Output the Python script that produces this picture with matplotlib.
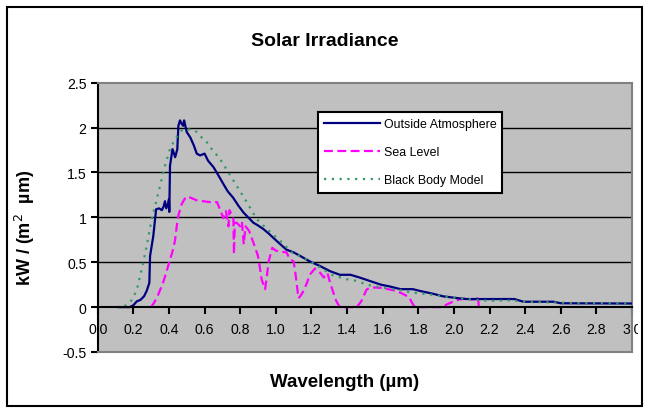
import matplotlib
matplotlib.use("Agg")
import matplotlib.pyplot as plt
from matplotlib.patches import Rectangle
from matplotlib.transforms import Bbox

plt.rcParams['font.family'] = ['Liberation Sans', 'DejaVu Sans']

# ---- data ----
outside_wl = [0.12, 0.18, 0.20, 0.22, 0.24, 0.26, 0.275, 0.29, 0.294, 0.312, 0.328, 0.345, 0.36,
              0.37, 0.378, 0.385, 0.395, 0.40, 0.402, 0.406, 0.42, 0.435, 0.447, 0.453, 0.462,
              0.472, 0.48, 0.485, 0.50, 0.52, 0.54, 0.556, 0.575, 0.60, 0.62, 0.65, 0.68, 0.706,
              0.73, 0.76, 0.79, 0.82, 0.85, 0.874, 0.90, 0.93, 0.96, 0.987, 1.02, 1.06, 1.10,
              1.137, 1.19, 1.25, 1.305, 1.36, 1.42, 1.47, 1.53, 1.59, 1.64, 1.70, 1.77, 1.81,
              1.88, 1.94, 2.02, 2.07, 2.34, 2.39, 2.56, 2.60, 3.0]
outside_val = [0.0, 0.0, 0.02, 0.065, 0.08, 0.12, 0.18, 0.27, 0.57, 0.79, 1.09, 1.10, 1.08,
               1.12, 1.18, 1.10, 1.15, 1.20, 1.06, 1.575, 1.76, 1.67, 1.76, 2.02, 2.08,
               2.04, 2.02, 2.08, 1.95, 1.89, 1.80, 1.71, 1.69, 1.71, 1.63, 1.56, 1.46, 1.37,
               1.29, 1.22, 1.13, 1.05, 0.99, 0.94, 0.91, 0.87, 0.82, 0.77, 0.71, 0.64, 0.61,
               0.57, 0.51, 0.456, 0.40, 0.36, 0.36, 0.33, 0.29, 0.25, 0.23, 0.20, 0.20, 0.18,
               0.15, 0.12, 0.10, 0.09, 0.09, 0.06, 0.06, 0.043, 0.04]

sea_wl = [0.30, 0.32, 0.34, 0.37, 0.39, 0.406, 0.42, 0.434, 0.445, 0.453, 0.472, 0.496, 0.52,
          0.556, 0.59, 0.63, 0.67, 0.69, 0.706, 0.72, 0.734, 0.74, 0.755, 0.762, 0.765, 0.77,
          0.78, 0.80, 0.81, 0.82, 0.83, 0.85, 0.874, 0.90, 0.91, 0.92, 0.94, 0.95, 0.96, 0.98,
          1.00, 1.02, 1.06, 1.08, 1.10, 1.11, 1.127, 1.137, 1.15, 1.175, 1.19, 1.22, 1.25,
          1.27, 1.29, 1.305, 1.32, 1.34, 1.36, 1.455, 1.48, 1.51, 1.53, 1.59, 1.64, 1.68,
          1.72, 1.75, 1.76, 1.78, 1.94, 1.96, 2.0, 2.03, 2.07, 2.10, 2.13, 2.135, 2.14]
sea_val = [0.0, 0.06, 0.14, 0.29, 0.42, 0.53, 0.62, 0.74, 0.92, 1.02, 1.15, 1.23, 1.22,
           1.19, 1.18, 1.17, 1.17, 1.07, 0.99, 1.07, 0.90, 1.08, 1.02, 0.98, 0.59, 0.94,
           0.94, 0.90, 0.95, 0.70, 0.90, 0.85, 0.72, 0.57, 0.45, 0.31, 0.20, 0.35, 0.51, 0.66,
           0.63, 0.62, 0.61, 0.53, 0.51, 0.38, 0.10, 0.12, 0.16, 0.27, 0.36, 0.43, 0.38,
           0.33, 0.38, 0.27, 0.18, 0.065, 0.0, 0.0, 0.065, 0.196, 0.22, 0.215, 0.196, 0.18,
           0.14, 0.11, 0.065, 0.0, 0.0, 0.03, 0.065, 0.085, 0.095, 0.085, 0.09, 0.12, 0.0]

bb_wl = [0.107, 0.15, 0.18, 0.20, 0.22, 0.247, 0.275, 0.303, 0.32, 0.35, 0.378, 0.406, 0.434,
         0.472, 0.50, 0.52, 0.537, 0.556, 0.593, 0.61, 0.62, 0.687, 0.762, 0.837, 0.893, 0.95,
         1.024, 1.10, 1.137, 1.175, 1.25, 1.32, 1.40, 1.46, 1.51, 1.60, 1.70, 1.755, 1.87,
         1.98, 2.07, 2.20, 2.33, 2.39, 2.50, 2.70, 3.0]
bb_val = [0.0, 0.01, 0.047, 0.11, 0.196, 0.42, 0.68, 0.98, 1.11, 1.35, 1.575, 1.76, 1.87,
          1.97, 1.98, 1.98, 1.98, 1.95, 1.87, 1.85, 1.81, 1.65, 1.41, 1.17, 0.98, 0.87,
          0.74, 0.59, 0.57, 0.53, 0.44, 0.355, 0.31, 0.29, 0.25, 0.215, 0.19, 0.165, 0.14,
          0.11, 0.09, 0.07, 0.075, 0.06, 0.055, 0.045, 0.04]

series_labels = ["Outside Atmosphere", "Sea Level", "Black Body Model"]
x_ticks = [0.0, 0.2, 0.4, 0.6, 0.8, 1.0, 1.2, 1.4, 1.6, 1.8, 2.0, 2.2, 2.4, 2.6, 2.8, 3.0]
y_ticks = [-0.5, 0, 0.5, 1, 1.5, 2, 2.5]
y_tick_labels = ["-0.5", "0", "0.5", "1", "1.5", "2", "2.5"]

# ---- figure ----
W, H = 649, 414
fig = plt.figure(figsize=(W / 100, H / 100), dpi=100)
fig.patch.set_facecolor('white')

# outer frame
fig.add_artist(Rectangle((7 / W, 1 - 407 / H), (642 - 7) / W, (407 - 8) / H,
                         transform=fig.transFigure, fill=False, edgecolor='black', linewidth=1.5))

left, right, top, bottom = 97.7, 632.0, 83.7, 353.0
ax = fig.add_axes([left / W, 1 - bottom / H, (right - left) / W, (bottom - top) / H])
ax.set_facecolor('#C0C0C0')
ax.set_xlim(0, 3.0)
ax.set_ylim(-0.5, 2.5)

# gridlines
for g in [0.5, 1.0, 1.5, 2.0]:
    ax.axhline(g, color='black', linewidth=1.0, zorder=1)

ax.plot(outside_wl, outside_val, color='#000080', linewidth=1.6, label=series_labels[0], zorder=4)
ax.plot(sea_wl, sea_val, color='#FF00FF', linewidth=1.6, linestyle=(0, (4, 2)), label=series_labels[1], zorder=3)
ax.plot(bb_wl, bb_val, color='#339966', linewidth=1.6, linestyle=(0, (1, 2.5)), label=series_labels[2], zorder=5)

# spines
for s in ['top', 'right']:
    ax.spines[s].set_color('#808080')
    ax.spines[s].set_linewidth(1.5)
ax.spines['left'].set_color('black')
ax.spines['left'].set_linewidth(1.5)
ax.spines['bottom'].set_position(('data', 0))
ax.spines['bottom'].set_color('black')
ax.spines['bottom'].set_linewidth(1.5)
ax.spines['bottom'].set_zorder(6)
ax.axhline(-0.5, color='#808080', linewidth=1.5, clip_on=False, zorder=6)

ax.set_xticks(x_ticks)
ax.set_xticklabels([f"{t:.1f}" for t in x_ticks])
ax.set_yticks(y_ticks)
ax.set_yticklabels(y_tick_labels)
ax.tick_params(axis='both', direction='out', length=5, width=1.5, color='black',
               labelsize=10.2, pad=3)
ax.tick_params(axis='x', pad=6)
clip_bb = Bbox.from_extents(0, 0, right + 6, H)
for lab in ax.get_xticklabels():
    lab.set_clip_box(clip_bb)
    lab.set_clip_on(True)

fig.text(0.5, 1 - 42 / H, "Solar Irradiance", fontsize=14, fontweight='bold',
         ha='center', va='center')
fig.text(345 / W, 1 - 383 / H, "Wavelength (\u00b5m)", fontsize=13.5, fontweight='bold',
         ha='center', va='center')
fig.text(25 / W, 1 - 228 / H, "kW / (m$^{2}$  \u00b5m)", fontsize=13, fontweight='bold',
         ha='center', va='center', rotation=90)

leg = ax.legend(loc='upper left', bbox_to_anchor=((318 - left) / (right - left), (bottom - 113) / (bottom - top)),
                frameon=True, fancybox=False, framealpha=1, edgecolor='black', fontsize=8.9,
                handlelength=4.5, labelspacing=1.3, borderpad=0.5, handletextpad=0.3,
                borderaxespad=0)
leg.get_frame().set_linewidth(1.5)

fig.savefig("out.png", dpi=100)
